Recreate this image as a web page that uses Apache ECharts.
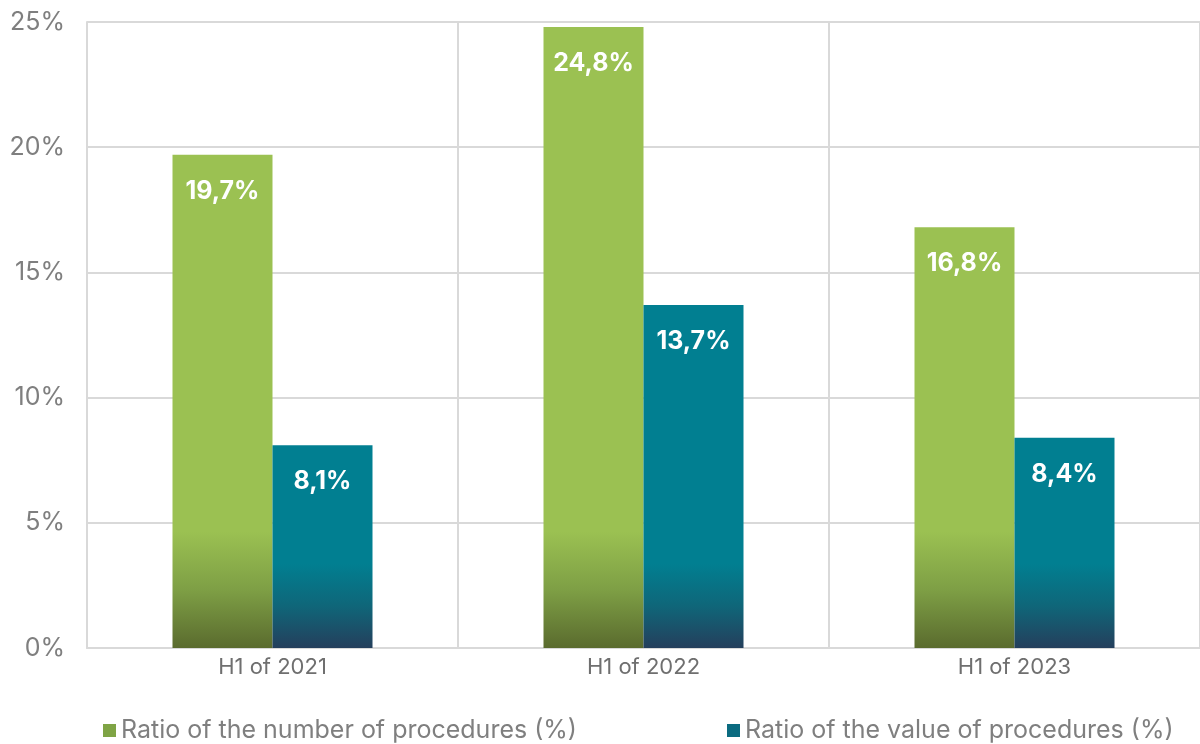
<!DOCTYPE html>
<html>
<head>
<meta charset="utf-8">
<script src="https://cdn.jsdelivr.net/npm/echarts@6/dist/echarts.min.js"></script>
<style>html,body{margin:0;padding:0;background:#fff}#c{width:1200px;height:744px}</style>
</head>
<body>
<div id="c"></div>
<script>
var categories = ['H1 of 2021', 'H1 of 2022', 'H1 of 2023'];
var seriesNames = ['Ratio of the number of procedures (%)', 'Ratio of the value of procedures (%)'];
var numberRatio = [19.7, 24.8, 16.8];
var valueRatio = [8.1, 13.7, 8.4];
var yTicks = [0, 5, 10, 15, 20, 25];

var chart = echarts.init(document.getElementById('c'));
var font = 'Inter, "Noto Sans", sans-serif';
function grad(c1, c2, c3, o) {
  return {type:'linear', x:0, y:0, x2:0, y2:648, global:true,
    colorStops:[{offset:0,color:c1},{offset:o,color:c1},{offset:(o+1)/2,color:c2},{offset:1,color:c3}]};
}
var lbl = {show:true, position:'insideTop', distance:24, color:'#fff', fontSize:25, fontWeight:'bold', fontFamily:font,
  formatter:function(p){return String(p.value).replace('.', ',') + '%';}};
chart.setOption({
  animation:false,
  textStyle:{fontFamily:font},
  grid:{left:87, right:-3, top:22, bottom:96, containLabel:false},
  legend:[
    {left:98, top:713, itemWidth:13, itemHeight:13, itemGap:10, icon:'rect',
     textStyle:{fontSize:25, color:'#7f7f7f', fontFamily:font},
     data:[{name:seriesNames[0], itemStyle:{color:'#7FA445'}}]},
    {left:722, top:713, itemWidth:13, itemHeight:13, itemGap:10, icon:'rect',
     textStyle:{fontSize:25, color:'#7f7f7f', fontFamily:font},
     data:[{name:seriesNames[1], itemStyle:{color:'#0B6B80'}}]}
  ],
  xAxis:{type:'category', data:categories,
    axisLine:{lineStyle:{color:'#d9d9d9', width:2}}, axisTick:{show:false},
    splitLine:{show:true, lineStyle:{color:'#d9d9d9', width:2}},
    axisLabel:{fontSize:22, color:'#6f6f6f', margin:8, fontFamily:font}},
  yAxis:{type:'value', min:yTicks[0], max:yTicks[yTicks.length-1], interval:5,
    axisLine:{show:true, lineStyle:{color:'#d9d9d9', width:2}},
    splitLine:{lineStyle:{color:'#d9d9d9', width:2}},
    axisLabel:{formatter:'{value}%', fontSize:25, color:'#7f7f7f', margin:22, fontFamily:font}},
  series:[
    {name:seriesNames[0], type:'bar', data:numberRatio, barWidth:100, barGap:'0%',
     itemStyle:{color:grad('#9BC152', '#7E9F45', '#5A6B2E', 0.82)}, label:lbl},
    {name:seriesNames[1], type:'bar', data:valueRatio, barWidth:100,
     itemStyle:{color:grad('#017F91', '#0F6679', '#243F5C', 0.87)}, label:lbl}
  ]
});
</script>
</body>
</html>
